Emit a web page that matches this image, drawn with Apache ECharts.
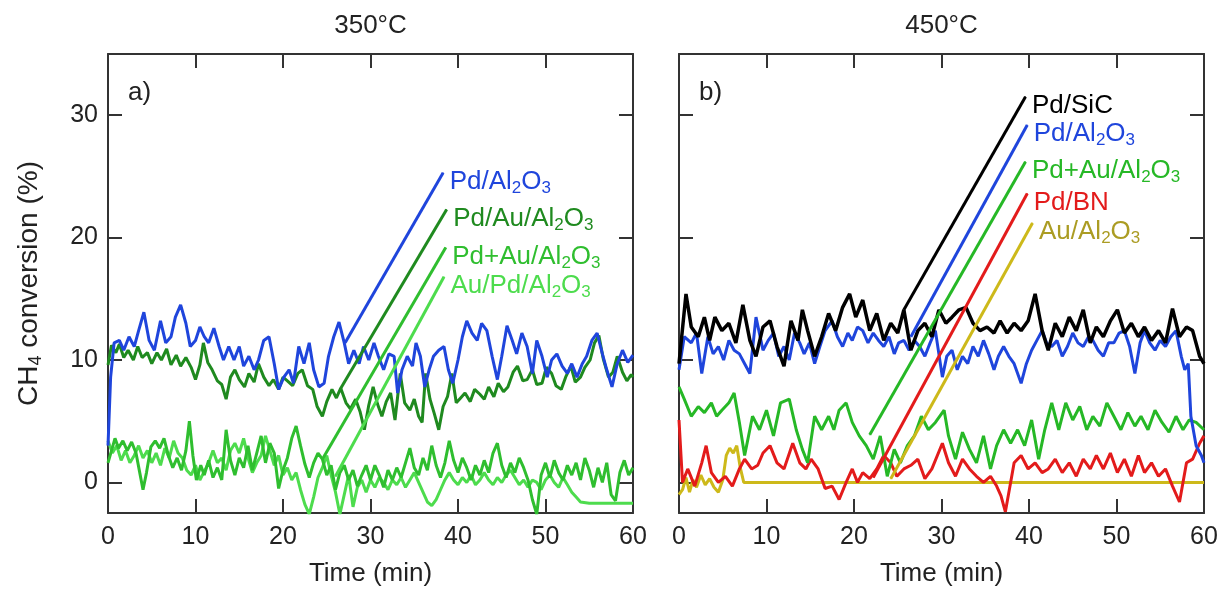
<!DOCTYPE html>
<html><head><meta charset="utf-8">
<script src="https://cdn.jsdelivr.net/npm/echarts@6.0.0/dist/echarts.min.js"></script>
<style>html,body{margin:0;padding:0;background:#fff}#c{width:1222px;height:593px}</style>
</head><body><div id="c"></div>
<script>
// ---------- labels / ticks ----------
const panelTitles = ['350°C', '450°C'];
const panelTags = ['a)', 'b)'];
const xName = 'Time (min)';
const yTickValues = [0, 10, 20, 30];

// ---------- 350 °C panel (a) ----------
const pdAl350 = [[0,3.0],[0.3,8.6],[0.7,11.4],[1.3,11.6],[1.8,10.8],[2.4,11.9],[3.0,11.1],[3.5,12.4],[4.1,13.9],[4.7,11.6],[5.3,10.8],[6.0,13.2],[6.6,11.4],[7.2,11.9],[7.7,13.5],[8.3,14.5],[8.9,13.0],[9.4,11.1],[10.0,11.6],[10.5,12.7],[11.0,11.9],[11.5,11.4],[12.1,12.6],[12.7,11.1],[13.2,10.0],[13.8,11.1],[14.4,10.0],[15.0,11.1],[15.5,9.5],[16.1,10.3],[16.7,9.2],[17.2,10.0],[17.8,11.6],[18.4,11.9],[19.0,9.7],[19.5,7.6],[20.1,8.6],[20.7,9.2],[21.2,8.1],[21.8,11.1],[22.4,9.7],[23.0,11.4],[23.5,9.2],[24.1,7.8],[24.7,8.1],[25.2,10.3],[25.8,11.9],[26.4,13.1],[27.0,11.4],[27.5,9.7],[28.1,10.8],[28.7,9.7],[29.2,11.1],[29.8,10.0],[30.4,11.4],[30.9,10.3],[31.5,9.2],[32.1,10.5],[32.7,10.3],[33.1,7.3],[33.6,9.2],[34.2,10.3],[34.8,9.5],[35.2,11.4],[35.7,10.3],[36.2,7.8],[36.7,9.2],[37.2,10.3],[37.8,10.8],[38.4,11.1],[38.9,9.2],[39.4,8.1],[40.0,10.0],[40.5,11.9],[41.0,13.2],[41.6,12.2],[42.2,11.6],[42.7,13.0],[43.3,12.4],[43.9,10.3],[44.5,8.4],[45.0,10.3],[45.6,12.8],[46.2,11.6],[46.7,10.5],[47.3,12.2],[47.9,11.1],[48.5,8.9],[49.0,11.6],[49.6,10.3],[50.2,8.6],[50.7,10.0],[51.3,10.5],[51.9,9.5],[52.5,8.9],[53.0,9.7],[53.6,8.6],[54.2,9.7],[54.7,10.3],[55.3,11.6],[55.9,12.2],[56.5,10.5],[57.0,9.2],[57.6,7.8],[58.2,9.7],[58.8,10.8],[59.4,9.8],[60,10.4]];
const pdAuAl350 = [[0,9.6],[0.4,11.2],[0.9,10.6],[1.3,11.3],[1.8,10.2],[2.3,10.8],[2.9,10.0],[3.4,11.1],[3.9,10.2],[4.5,10.6],[5.0,9.7],[5.6,10.6],[6.1,10.0],[6.7,10.9],[7.2,9.6],[7.8,10.4],[8.3,9.5],[8.9,10.2],[9.5,9.4],[10.0,8.4],[10.5,9.6],[10.9,11.4],[11.4,9.8],[11.9,9.2],[12.5,8.3],[13.0,8.0],[13.5,6.8],[14.0,8.6],[14.5,9.2],[15.0,8.4],[15.6,7.8],[16.1,8.9],[16.7,8.2],[17.2,9.7],[17.8,8.6],[18.4,7.9],[18.9,8.4],[19.5,7.6],[20.0,8.6],[20.5,8.3],[21.1,7.9],[21.7,8.9],[22.2,9.2],[22.8,7.9],[23.4,7.6],[23.9,6.2],[24.5,5.4],[25.0,6.6],[25.6,7.6],[26.1,6.9],[26.6,7.7],[27.2,6.5],[27.7,6.0],[28.3,6.8],[28.8,5.8],[29.3,4.3],[29.8,6.3],[30.3,7.8],[30.8,6.4],[31.3,5.4],[31.8,6.6],[32.3,7.3],[32.8,5.1],[33.4,8.9],[33.9,6.5],[34.5,5.9],[35.0,6.8],[35.5,5.4],[35.9,4.9],[36.3,8.9],[36.8,6.8],[37.3,5.6],[37.8,4.3],[38.3,6.2],[38.8,7.0],[39.3,8.9],[39.8,6.5],[40.3,6.9],[40.8,7.3],[41.4,6.6],[41.9,7.6],[42.5,7.2],[43.0,6.8],[43.5,7.8],[44.1,7.0],[44.6,8.1],[45.2,7.4],[45.7,7.8],[46.3,9.0],[46.8,9.5],[47.4,8.3],[47.9,8.4],[48.5,9.2],[49.0,8.0],[49.6,8.1],[50.1,9.4],[50.7,8.9],[51.2,7.9],[51.8,7.6],[52.3,8.6],[52.9,9.5],[53.4,8.2],[54.0,8.6],[54.5,9.4],[55.1,10.0],[55.6,11.4],[56.1,12.0],[56.6,10.1],[57.2,8.6],[57.7,9.0],[58.2,10.3],[58.8,9.0],[59.3,8.3],[59.8,8.8],[60,8.6]];
const pdPlusAu350 = [[0,1.6],[0.4,2.6],[0.8,3.6],[1.2,2.8],[1.7,3.4],[2.2,2.6],[2.7,3.3],[3.2,2.4],[3.6,0.9],[4.0,-0.6],[4.4,0.8],[4.9,2.9],[5.4,3.4],[5.9,2.8],[6.4,3.6],[6.9,2.2],[7.4,1.2],[7.9,2.0],[8.4,1.0],[8.9,2.6],[9.3,5.0],[9.7,2.2],[10.1,0.2],[10.6,1.4],[11.0,0.6],[11.5,1.8],[12.0,0.4],[12.5,1.2],[13.0,0.2],[13.5,4.3],[14.0,1.8],[14.5,0.6],[15.0,2.0],[15.5,1.2],[16.0,3.0],[16.5,1.0],[17.0,2.4],[17.5,3.8],[18.0,1.6],[18.5,3.2],[19.0,2.4],[19.5,-0.5],[20.0,1.0],[20.5,2.0],[21.0,3.6],[21.5,4.6],[22.0,3.0],[22.5,1.5],[23.0,0.4],[23.5,1.6],[24.0,2.4],[24.5,1.9],[25.0,0.6],[25.5,1.4],[26.0,-0.6],[26.5,0.8],[27.0,1.4],[27.5,0.2],[28.0,1.0],[28.5,-0.3],[29.0,0.6],[29.5,1.4],[30.0,0.2],[30.5,1.4],[31.0,0.6],[31.5,-0.4],[32.0,1.0],[32.5,0.2],[33.0,1.2],[33.5,0.4],[34.0,1.6],[34.5,2.8],[35.0,1.2],[35.5,0.6],[36.0,2.0],[36.5,1.0],[37.0,3.0],[37.5,1.4],[38.0,0.4],[38.5,1.6],[39.0,3.4],[39.5,1.8],[40.0,0.8],[40.5,2.0],[41.0,1.2],[41.5,0.2],[42.0,1.4],[42.5,0.6],[43.0,1.8],[43.5,0.8],[44.0,2.4],[44.5,3.2],[45.0,1.4],[45.5,0.4],[46.0,1.6],[46.5,0.8],[47.0,2.0],[47.5,1.2],[48.0,0.2],[48.5,-1.4],[49.0,-2.6],[49.5,0.6],[50.0,1.6],[50.5,0.4],[51.0,1.8],[51.5,0.8],[52.0,0.2],[52.5,1.4],[53.0,0.6],[53.5,1.6],[54.0,0.2],[54.5,2.0],[55.0,1.0],[55.5,-0.4],[56.0,1.2],[56.5,0.0],[57.0,1.6],[57.5,-1.0],[58.0,-1.5],[58.5,0.8],[59.0,1.8],[59.5,0.6],[60,1.2]];
const auPdAl350 = [[0,3.4],[0.5,2.4],[1.0,3.0],[1.5,1.8],[2.0,2.6],[2.5,1.6],[3.0,2.2],[3.5,3.0],[4.0,2.0],[4.5,2.6],[5.0,1.6],[5.5,2.4],[6.0,1.4],[6.5,2.8],[7.0,2.0],[7.5,3.4],[8.0,2.4],[8.5,2.0],[9.0,1.0],[9.5,0.6],[10.0,1.4],[10.5,0.2],[11.0,0.9],[11.5,1.6],[12.0,2.6],[12.5,1.6],[13.0,2.0],[13.5,1.0],[14.0,2.6],[14.5,3.2],[15.0,2.4],[15.5,3.6],[16.0,2.0],[16.5,0.8],[17.0,1.6],[17.5,2.2],[18.0,3.8],[18.5,2.6],[19.0,1.4],[19.5,2.2],[20.0,0.6],[20.5,1.2],[21.0,0.2],[21.5,0.8],[22.0,-0.6],[22.5,-1.8],[23.0,-2.6],[23.5,-1.2],[24.0,0.4],[24.5,1.2],[25.0,2.2],[25.5,0.6],[26.0,-0.8],[26.5,-2.6],[27.0,-1.0],[27.5,0.6],[28.0,-2.0],[28.5,-0.4],[29.0,0.2],[29.5,-0.8],[30.0,0.2],[30.5,-0.4],[31.0,0.4],[31.5,0.0],[32.0,-0.6],[32.5,0.2],[33.0,-0.2],[33.5,0.4],[34.0,-0.4],[34.5,0.2],[35.0,0.8],[35.5,0.0],[36.0,-0.8],[36.5,-1.6],[37.0,-1.9],[37.5,-1.4],[38.0,-0.6],[38.5,0.2],[39.0,0.8],[39.5,0.2],[40.0,-0.2],[40.5,0.4],[41.0,0.0],[41.5,0.6],[42.0,-0.2],[42.5,0.2],[43.0,0.8],[43.5,0.2],[44.0,-0.2],[44.5,0.4],[45.0,0.0],[45.5,0.6],[46.0,1.0],[46.5,0.4],[47.0,-0.2],[47.5,0.2],[48.0,-0.4],[48.5,0.2],[49.0,0.0],[49.5,-0.6],[50.0,0.2],[50.5,0.6],[51.0,0.0],[51.5,-0.4],[52.0,0.4],[52.5,-0.2],[53.0,-0.8],[53.5,-1.2],[54.0,-1.6],[55.0,-1.7],[56.0,-1.7],[57.0,-1.7],[58.0,-1.7],[59.0,-1.7],[60,-1.7]];
const names350 = ['Pd/Al2O3', 'Pd/Au/Al2O3', 'Pd+Au/Al2O3', 'Au/Pd/Al2O3'];
const colors350 = ['#1f45dc', '#1f8a1f', '#2fbe2f', '#4ddc4d'];
const leaderFrom350 = [[27.1, 11.4], [26.6, 7.7], [24.5, 1.9], [26.0, 0.5]];
const leaderTo350 = [[38.3, 25.3], [38.7, 22.3], [38.6, 19.2], [38.4, 16.8]];

// ---------- 450 °C panel (b) ----------
const pdSiC450 = [[0,9.7],[0.8,15.4],[1.4,12.7],[2.2,11.9],[2.9,13.5],[3.5,11.6],[4.1,13.5],[4.9,12.4],[5.7,13.0],[6.5,11.4],[7.3,14.5],[8.1,11.6],[8.8,10.3],[9.6,12.7],[10.4,13.2],[11.2,11.1],[12.0,9.5],[12.8,13.2],[13.6,11.6],[14.1,14.1],[14.7,12.4],[15.5,10.3],[16.3,11.9],[17.1,13.8],[17.9,12.4],[18.7,14.3],[19.5,15.4],[20.2,13.5],[21.0,14.9],[21.8,12.4],[22.6,13.8],[23.4,11.6],[24.2,13.0],[25.0,12.2],[25.7,14.1],[26.5,10.8],[27.3,12.4],[28.1,13.0],[28.9,11.9],[29.7,14.1],[30.5,13.0],[31.2,13.5],[32.0,14.1],[32.8,14.3],[33.6,13.0],[34.4,12.4],[35.2,12.7],[36.0,12.2],[36.7,13.2],[37.5,12.2],[38.3,13.0],[39.1,12.4],[39.9,13.2],[40.7,15.4],[41.5,12.4],[42.2,10.8],[43.0,13.0],[43.8,11.9],[44.6,13.5],[45.4,12.4],[46.2,14.1],[47.0,11.4],[47.7,12.7],[48.5,11.9],[49.3,13.2],[50.1,14.1],[50.9,12.2],[51.7,13.0],[52.5,11.9],[53.2,12.7],[54.0,11.6],[54.8,12.4],[55.6,11.4],[56.4,14.2],[57.2,11.9],[58.0,12.7],[58.7,12.4],[59.5,10.3],[60,9.7]];
const pdAl450 = [[0,9.2],[0.6,11.9],[1.4,11.4],[2.0,12.2],[2.6,8.9],[3.3,11.9],[3.9,10.5],[4.5,11.1],[5.1,10.0],[5.7,11.6],[6.3,10.8],[6.9,10.5],[7.5,9.7],[8.1,8.9],[8.8,13.5],[9.6,10.8],[10.2,11.6],[10.8,12.2],[11.4,10.3],[12.0,11.1],[12.6,10.0],[13.2,12.2],[13.8,11.4],[14.3,10.5],[14.9,11.4],[15.5,9.7],[16.1,11.1],[16.7,12.4],[17.5,13.2],[18.1,11.9],[18.7,11.1],[19.3,12.2],[19.8,11.6],[20.4,12.7],[21.0,12.4],[21.6,11.4],[22.2,12.2],[22.8,11.6],[23.4,11.1],[24.0,11.9],[24.6,10.5],[25.1,11.4],[25.7,11.6],[26.3,10.8],[26.9,11.6],[27.5,11.1],[28.1,10.3],[28.7,11.4],[29.3,12.4],[30.1,8.6],[30.6,10.3],[31.2,10.8],[31.8,9.2],[32.4,10.3],[33.0,9.7],[33.6,11.1],[34.2,10.3],[34.8,11.6],[35.4,10.5],[36.0,9.2],[36.5,10.3],[37.1,11.1],[37.7,10.3],[38.3,9.7],[39.1,8.1],[39.7,9.7],[40.3,10.8],[40.9,11.6],[41.5,12.4],[42.0,11.4],[42.6,11.1],[43.2,11.6],[43.8,10.3],[44.4,11.1],[45.0,12.2],[45.6,11.4],[46.2,11.1],[46.8,11.9],[47.3,11.6],[47.9,10.8],[48.5,10.3],[49.1,11.4],[49.7,11.4],[50.3,12.2],[50.9,12.4],[51.5,11.1],[52.1,8.9],[52.7,11.4],[53.2,12.4],[53.8,11.4],[54.4,10.8],[55.0,11.6],[55.6,11.1],[56.2,11.9],[56.8,12.4],[57.4,10.3],[57.8,9.2],[58.2,9.7],[58.5,5.4],[59.1,3.0],[59.7,2.2],[60,1.6]];
const pdPlusAu450 = [[0,7.8],[0.6,6.8],[1.4,5.4],[2.2,6.2],[2.9,5.7],[3.7,6.5],[4.3,5.4],[4.9,5.9],[5.7,6.5],[6.3,7.3],[6.9,4.9],[7.5,2.2],[8.4,5.4],[9.2,4.3],[10.0,5.9],[10.8,3.8],[11.6,6.5],[12.6,6.8],[13.4,4.3],[14.1,2.7],[14.7,1.6],[15.5,5.4],[16.3,4.3],[17.1,5.4],[17.7,4.3],[18.3,5.9],[19.1,6.5],[19.8,4.9],[20.6,3.8],[21.4,3.0],[22.2,1.9],[23.0,3.8],[23.8,0.5],[24.6,2.7],[25.3,1.6],[26.1,3.0],[26.9,3.8],[27.7,5.4],[28.5,4.3],[29.3,4.9],[30.3,5.9],[30.8,3.8],[31.6,1.9],[32.4,4.1],[33.2,2.7],[34.0,1.6],[34.8,3.8],[35.6,1.1],[36.3,3.0],[37.1,4.3],[37.9,3.2],[38.7,4.3],[39.5,3.0],[40.3,5.1],[41.1,1.9],[41.8,4.3],[42.6,6.5],[43.4,4.3],[44.2,6.5],[45.0,5.1],[45.8,6.2],[46.6,4.3],[47.3,5.4],[48.1,4.6],[48.9,6.5],[49.7,5.4],[50.5,4.3],[51.3,5.7],[52.1,4.6],[52.8,5.4],[53.6,4.3],[54.4,5.9],[55.2,4.9],[56.0,4.1],[56.8,5.4],[57.6,4.3],[58.3,5.1],[59.1,4.9],[60,4.3]];
const pdBN450 = [[0,5.1],[0.4,0.0],[1.0,1.1],[1.8,-0.3],[2.6,1.6],[3.1,3.0],[3.7,0.8],[4.5,0.0],[5.3,0.5],[6.1,-0.3],[6.9,1.1],[7.5,1.9],[8.3,1.1],[9.0,1.4],[9.6,2.4],[10.4,3.0],[11.2,1.6],[12.0,1.1],[13.0,3.2],[13.8,1.6],[14.5,1.1],[15.1,1.9],[15.9,1.1],[16.7,-0.5],[17.5,-0.3],[18.3,-1.4],[19.1,0.0],[19.8,1.1],[20.4,0.0],[21.0,0.8],[21.8,0.3],[22.6,1.1],[23.4,2.2],[24.2,1.6],[24.9,0.5],[25.7,1.1],[26.5,1.4],[27.3,1.9],[28.1,0.3],[28.9,1.1],[30.1,3.2],[30.8,1.6],[31.6,0.5],[32.4,1.9],[33.2,1.1],[34.0,0.5],[34.8,0.0],[35.6,0.5],[36.3,-0.3],[36.8,-1.1],[37.3,-2.4],[37.9,0.0],[38.3,1.6],[39.1,2.2],[39.9,1.1],[40.7,1.6],[41.5,0.8],[42.2,1.1],[43.0,1.9],[43.8,0.8],[44.6,1.6],[45.4,0.5],[46.2,1.9],[47.0,1.1],[47.7,2.2],[48.5,1.1],[49.3,2.4],[50.1,0.8],[50.9,1.9],[51.7,0.5],[52.5,2.2],[53.2,0.8],[54.0,1.6],[54.8,0.5],[55.6,1.1],[56.4,-0.3],[57.2,-1.6],[58.0,1.6],[58.7,1.9],[59.5,3.2],[60,3.8]];
const auAl450 = [[0,-1.0],[0.4,-0.6],[0.8,0.4],[1.2,-0.8],[1.6,0.2],[2.0,-0.4],[2.5,0.6],[3.0,-0.2],[3.5,0.3],[4.0,-0.4],[4.5,-0.8],[5.0,0.2],[5.4,2.2],[5.8,2.8],[6.2,2.4],[6.6,3.0],[7.0,1.2],[7.4,0.0],[20,0.0],[40,0.0],[60,0.0]];
const names450 = ['Pd/SiC', 'Pd/Al2O3', 'Pd+Au/Al2O3', 'Pd/BN', 'Au/Al2O3'];
const colors450 = ['#000000', '#1f45dc', '#26b826', '#e31b1b', '#cdb91a'];
const labelColors450 = ['#000000', '#1f45dc', '#26b826', '#e31b1b', '#ab9c23'];
const leaderFrom450 = [[25.7, 14.1], [26.5, 11.9], [21.8, 3.9], [22.2, 0.4], [24.2, 0.3]];
const leaderTo450 = [[39.6, 31.5], [39.8, 29.2], [39.6, 26.2], [39.8, 23.6], [40.4, 21.2]];

// ---------- build ----------
const FONT = '"Liberation Sans", Arial, Helvetica, sans-serif';
const TXT = '#222';
const AX = '#333';

function rich(str) {
  return str.replace(/([^0-9]+)|([0-9]+)/g, (m, a, d) => a ? '{t|' + a + '}' : '{s|' + d + '}');
}
function richStyle(size) {
  return {
    t: { fontSize: size, fontFamily: FONT, lineHeight: size + 6 },
    s: { fontSize: Math.round(size * 0.64), fontFamily: FONT, padding: [Math.round(size * 0.5), 0, 0, 0] }
  };
}

const grids = [
  { left: 108, top: 54, width: 525, height: 459 },
  { left: 679, top: 54, width: 525, height: 459 }
];

const xAxes = [], yAxes = [];
[0, 1].forEach(g => {
  ['bottom', 'top'].forEach(pos => {
    xAxes.push({
      gridIndex: g, type: 'value', position: pos, min: 0, max: 60, interval: 10,
      axisLine: { show: true, onZero: false, lineStyle: { color: AX, width: 2 } },
      axisTick: { show: true, inside: true, length: 14, lineStyle: { color: AX, width: 2 } },
      axisLabel: { show: pos === 'bottom', margin: 12, fontSize: 25, fontFamily: FONT, color: TXT },
      splitLine: { show: false },
      name: pos === 'bottom' ? xName : '',
      nameLocation: 'middle', nameGap: 48,
      nameTextStyle: { fontSize: 26, fontFamily: FONT, color: TXT }
    });
  });
  ['left', 'right'].forEach(pos => {
    const lab = (g === 0 && pos === 'left');
    yAxes.push({
      gridIndex: g, type: 'value', position: pos, min: -2.5, max: 35,
      axisLine: { show: true, onZero: false, lineStyle: { color: AX, width: 2 } },
      axisTick: { show: true, inside: true, length: 14, customValues: yTickValues, lineStyle: { color: AX, width: 2 } },
      axisLabel: { show: lab, customValues: yTickValues, margin: 10, fontSize: 25, fontFamily: FONT, color: TXT },
      splitLine: { show: false },
      name: lab ? '{t|CH}{s|4}{t| conversion (%)}' : '',
      nameLocation: 'middle', nameGap: 62, nameRotate: 90,
      nameTextStyle: { color: TXT, rich: richStyle(28) }
    });
  });
});

const series = [];
function addPanel(g, dataSets, names, colors, labelColors, from, to) {
  dataSets.forEach((d, i) => {
    series.push({
      type: 'line', xAxisIndex: g * 2, yAxisIndex: g * 2, data: d,
      showSymbol: false, symbol: 'none', smooth: false,
      lineStyle: { color: colors[i], width: g === 1 && i === 0 ? 3.5 : 3 },
      z: 3 + (dataSets.length - i)
    });
  });
  names.forEach((n, i) => {
    series.push({
      type: 'line', xAxisIndex: g * 2, yAxisIndex: g * 2,
      data: [
        { value: from[i] },
        { value: to[i], label: {
            show: true, position: 'right', distance: 6, offset: [0, 9],
            formatter: rich(n), color: labelColors[i], rich: richStyle(26)
          } }
      ],
      symbol: 'circle', symbolSize: 1, showSymbol: true,
      itemStyle: { color: colors[i] },
      lineStyle: { color: colors[i], width: 3 },
      z: 10
    });
  });
}
addPanel(0, [pdAl350, pdAuAl350, pdPlusAu350, auPdAl350], names350, colors350, colors350, leaderFrom350, leaderTo350);
addPanel(1, [pdSiC450, pdAl450, pdPlusAu450, pdBN450, auAl450], names450, colors450, labelColors450, leaderFrom450, leaderTo450);

const graphic = [];
panelTitles.forEach((t, i) => {
  graphic.push({ type: 'text', x: grids[i].left + grids[i].width / 2, y: 26,
    style: { text: t, fontSize: 26, fontFamily: FONT, fill: TXT, align: 'center', verticalAlign: 'middle' } });
  graphic.push({ type: 'text', x: grids[i].left + 20, y: 93,
    style: { text: panelTags[i], fontSize: 26, fontFamily: FONT, fill: TXT, align: 'left', verticalAlign: 'middle' } });
});

const chart = echarts.init(document.getElementById('c'), null, { renderer: 'canvas' });
chart.setOption({
  backgroundColor: '#fff',
  animation: false,
  grid: grids,
  xAxis: xAxes,
  yAxis: yAxes,
  series: series,
  graphic: graphic
});
</script>
</body></html>
